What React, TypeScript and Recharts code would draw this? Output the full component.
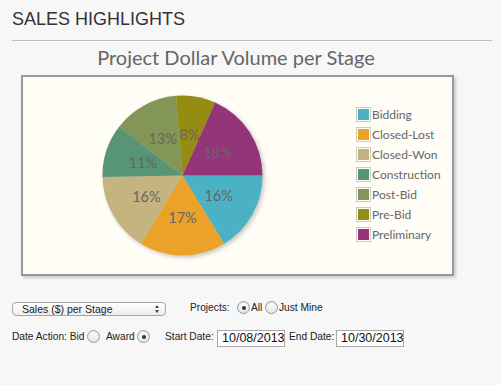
import React from 'react';
import { PieChart, Pie, Cell, Legend } from 'recharts';

const stages = ['Bidding', 'Closed-Lost', 'Closed-Won', 'Construction', 'Post-Bid', 'Pre-Bid', 'Preliminary'];
const stageShares = [16.3, 17.4, 16.0, 10.8, 13.2, 8.0, 18.3];
const stageColors = ['#4bb2c5', '#eaa228', '#c5b47f', '#579575', '#839557', '#958c12', '#953579'];

const chartData = stages.map((name, i) => ({ name, value: stageShares[i] }));

const RADIAN = Math.PI / 180;
const chartFont = '"Lato", "Open Sans", sans-serif';
const formFont = '"Liberation Sans", Arial, sans-serif';

function renderLabel({ cx, cy, midAngle, outerRadius, percent }: any) {
  const r = outerRadius * 0.52;
  const x = cx + r * Math.cos(-midAngle * RADIAN);
  const y = cy + r * Math.sin(-midAngle * RADIAN);
  return (
    <text
      x={x}
      y={y}
      fill="#666"
      fontSize={14.5}
      fontFamily={chartFont}
      textAnchor="middle"
      dominantBaseline="central"
    >
      {`${Math.round(percent * 100)}%`}
    </text>
  );
}

function StageLegend({ payload }: any) {
  return (
    <div style={{ fontFamily: chartFont, fontSize: 12, color: '#666' }}>
      {(payload || []).map((item: any) => (
        <div key={item.value} style={{ display: 'flex', alignItems: 'center', height: 20 }}>
          <div style={{ border: '1px solid #ccc', padding: 1, marginRight: 1 }}>
            <div style={{ width: 11, height: 11, background: item.color }} />
          </div>
          <span>{item.value}</span>
        </div>
      ))}
    </div>
  );
}

function Radio({ left, top, checked }: { left: number; top: number; checked?: boolean }) {
  return (
    <div
      style={{
        position: 'absolute',
        left,
        top,
        width: 11,
        height: 11,
        borderRadius: '50%',
        border: '1px solid #9a9a9a',
        background: 'linear-gradient(#ffffff, #e4e4e4)',
        boxShadow: 'inset 0 1px 1px rgba(0,0,0,0.1)',
      }}
    >
      {checked && (
        <div
          style={{
            position: 'absolute',
            left: 3.5,
            top: 3.5,
            width: 4,
            height: 4,
            borderRadius: '50%',
            background: '#333',
          }}
        />
      )}
    </div>
  );
}

function Label({ left, top, children }: { left: number; top: number; children: React.ReactNode }) {
  return (
    <div style={{ position: 'absolute', left, top, fontFamily: formFont, fontSize: 10.2, color: '#222', whiteSpace: 'nowrap' }}>
      {children}
    </div>
  );
}

function DateBox({ left, value }: { left: number; value: string }) {
  return (
    <div
      style={{
        position: 'absolute',
        left,
        top: 330,
        width: 62,
        height: 15,
        border: '1px solid #a8a8a8',
        background: '#fff',
        overflow: 'hidden',
        fontFamily: formFont,
        fontSize: 12.5,
        lineHeight: '15px',
        color: '#111',
        paddingLeft: 4,
        boxSizing: 'content-box',
        whiteSpace: 'nowrap',
      }}
    >
      {value}
    </div>
  );
}

export default function App() {
  return (
    <div style={{ position: 'absolute', left: 0, top: 0, width: 501, height: 385, background: '#f7f7f7', overflow: 'hidden' }}>
      <div style={{ position: 'absolute', left: 12, top: 9, fontFamily: formFont, fontSize: 18, color: '#333' }}>
        SALES HIGHLIGHTS
      </div>
      <div style={{ position: 'absolute', left: 12, top: 40, width: 480, height: 1, background: '#bdbdbd' }} />

      <div
        style={{
          position: 'absolute',
          left: 0,
          top: 45,
          width: 472,
          textAlign: 'center',
          fontFamily: chartFont,
          fontSize: 20,
          color: '#666',
        }}
      >
        Project Dollar Volume per Stage
      </div>

      <div
        style={{
          position: 'absolute',
          left: 21,
          top: 75,
          width: 429,
          height: 197,
          border: '2px solid #999',
          background: '#fffdf6',
          boxShadow: '2px 2px 3px rgba(0,0,0,0.18)',
        }}
      >
        <style>{`.stage-pie .recharts-pie { filter: drop-shadow(2px 2px 2px rgba(0,0,0,0.22)); }`}</style>
        <PieChart width={429} height={197} className="stage-pie">
          <Pie
            data={chartData}
            dataKey="value"
            nameKey="name"
            cx={154.5}
            cy={93.5}
            outerRadius={80}
            startAngle={0}
            endAngle={-360}
            stroke="none"
            label={renderLabel}
            labelLine={false}
            isAnimationActive={false}
          >
            {chartData.map((d, i) => (
              <Cell key={d.name} fill={stageColors[i]} />
            ))}
          </Pie>
          <Legend
            layout="vertical"
            content={<StageLegend />}
            wrapperStyle={{ left: 333, top: 27, width: 100 }}
          />
        </PieChart>
      </div>

      <div
        style={{
          position: 'absolute',
          left: 12,
          top: 302,
          width: 152,
          height: 12,
          border: '1px solid #a5a5a5',
          borderRadius: 4,
          background: 'linear-gradient(#ffffff, #ececec)',
          fontFamily: formFont,
          fontSize: 10.5,
          lineHeight: '12px',
          color: '#222',
        }}
      >
        <span style={{ position: 'absolute', left: 9, top: 0 }}>Sales ($) per Stage</span>
        <div style={{ position: 'absolute', left: 142, top: 2, width: 0, height: 0, borderLeft: '2px solid transparent', borderRight: '2px solid transparent', borderBottom: '3px solid #444' }} />
        <div style={{ position: 'absolute', left: 142, top: 7, width: 0, height: 0, borderLeft: '2px solid transparent', borderRight: '2px solid transparent', borderTop: '3px solid #444' }} />
      </div>

      <Label left={190} top={302}>Projects:</Label>
      <Radio left={237} top={301} checked />
      <Label left={251} top={302}>All</Label>
      <Radio left={265} top={301} />
      <Label left={279} top={302}>Just Mine</Label>

      <Label left={12} top={331}>Date Action: Bid</Label>
      <Radio left={87} top={330} />
      <Label left={106} top={331}>Award</Label>
      <Radio left={137} top={330} checked />
      <Label left={165} top={331}>Start Date:</Label>
      <DateBox left={217} value="10/08/2013" />
      <Label left={289} top={331}>End Date:</Label>
      <DateBox left={336} value="10/30/2013" />
    </div>
  );
}
